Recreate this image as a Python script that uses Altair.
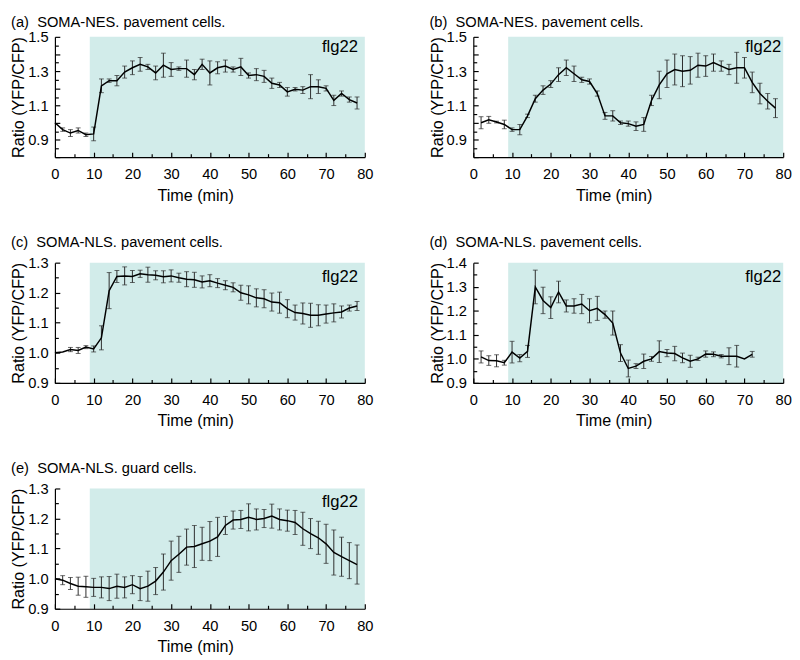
import altair as alt
import pandas as pd

# ---------------- data ----------------
T_A = list(range(0, 80, 2))
V_A = [1.00, 0.96, 0.94, 0.955, 0.93, 0.935, 1.215, 1.245, 1.245, 1.295,
       1.32, 1.34, 1.325, 1.29, 1.335, 1.31, 1.315, 1.315, 1.28, 1.34,
       1.29, 1.32, 1.33, 1.31, 1.325, 1.275, 1.28, 1.27, 1.23, 1.22,
       1.18, 1.195, 1.19, 1.21, 1.21, 1.20, 1.13, 1.17, 1.135, 1.115]
E_A = [0, 0.01, 0.02, 0.015, 0.01, 0.04, 0.04, 0.01, 0.03, 0.035,
       0.04, 0.04, 0.015, 0.04, 0.07, 0.04, 0.01, 0.05, 0.03, 0.03,
       0.07, 0.035, 0.035, 0.015, 0.05, 0.015, 0.035, 0.035, 0.03, 0.015,
       0.025, 0.01, 0.02, 0.07, 0.04, 0.015, 0.03, 0.015, 0.015, 0.035]

T_B = list(range(2, 80, 2))
V_B = [1.00, 1.017, 1.004, 0.99, 0.96, 0.96, 1.04, 1.14, 1.19, 1.225,
       1.28, 1.32, 1.285, 1.25, 1.24, 1.17, 1.04, 1.04, 1.00, 0.995,
       0.98, 0.99, 1.13, 1.22, 1.285, 1.31, 1.30, 1.305, 1.335, 1.33,
       1.35, 1.33, 1.31, 1.32, 1.32, 1.235, 1.17, 1.125, 1.085]
E_B = [0.035, 0.02, 0.005, 0.025, 0.01, 0.03, 0.01, 0.02, 0.025, 0.02,
       0.04, 0.045, 0.045, 0.015, 0.015, 0.015, 0.02, 0.03, 0.01, 0.015,
       0.025, 0.04, 0.03, 0.08, 0.08, 0.09, 0.09, 0.08, 0.07, 0.06,
       0.05, 0.03, 0.03, 0.09, 0.06, 0.06, 0.06, 0.045, 0.055]

T_C = list(range(0, 80, 2))
V_C = [1.0, 1.003, 1.011, 1.008, 1.019, 1.013, 1.05, 1.207, 1.254, 1.256,
       1.254, 1.263, 1.26, 1.258, 1.253, 1.256, 1.25, 1.245, 1.243, 1.236,
       1.24, 1.232, 1.225, 1.218, 1.2, 1.193, 1.183, 1.18, 1.169, 1.167,
       1.147, 1.134, 1.131, 1.125, 1.125, 1.129, 1.133, 1.136, 1.149, 1.156]
E_C = [0, 0, 0.007, 0.01, 0.005, 0.01, 0.04, 0.06, 0.02, 0.03,
       0.02, 0.012, 0.025, 0.015, 0.02, 0.02, 0.015, 0.025, 0.025, 0.02,
       0.02, 0.015, 0.015, 0.015, 0.025, 0.03, 0.03, 0.03, 0.03, 0.035,
       0.03, 0.025, 0.035, 0.04, 0.035, 0.03, 0.03, 0.02, 0.01, 0.015]

T_D = list(range(2, 74, 2))
V_D = [1.008, 0.993, 0.992, 0.984, 1.028, 1.003, 1.031, 1.299, 1.243, 1.213,
       1.278, 1.22, 1.22, 1.228, 1.2, 1.21, 1.184, 1.149, 1.024, 0.96,
       0.97, 0.99, 1.0, 1.03, 1.024, 1.022, 1.004, 0.99, 1.0, 1.02,
       1.019, 1.011, 1.011, 1.011, 1.0, 1.019]
E_D = [0.025, 0.02, 0.025, 0.01, 0.045, 0.015, 0.025, 0.07, 0.055, 0.045,
       0.045, 0.025, 0.03, 0.04, 0.05, 0.05, 0.015, 0.05, 0.035, 0.035,
       0.01, 0.03, 0.01, 0.045, 0.015, 0.03, 0.02, 0.025, 0.007, 0.013,
       0.01, 0.007, 0.035, 0.045, 0, 0.012]

T_E = list(range(0, 80, 2))
V_E = [1.0, 0.995, 0.984, 0.975, 0.973, 0.971, 0.971, 0.967, 0.975, 0.971,
       0.98, 0.967, 0.975, 0.992, 1.022, 1.06, 1.081, 1.105, 1.107, 1.116,
       1.125, 1.139, 1.177, 1.195, 1.197, 1.204, 1.197, 1.2, 1.208, 1.197,
       1.193, 1.187, 1.166, 1.15, 1.136, 1.116, 1.087, 1.073, 1.06, 1.047]
E_E = [0, 0.015, 0.02, 0.03, 0.035, 0.03, 0.035, 0.04, 0.04, 0.035,
       0.03, 0.04, 0.05, 0.045, 0.06, 0.065, 0.06, 0.06, 0.07, 0.055,
       0.065, 0.065, 0.03, 0.03, 0.03, 0.045, 0.035, 0.03, 0.04, 0.035,
       0.035, 0.04, 0.055, 0.05, 0.055, 0.065, 0.075, 0.065, 0.06, 0.065]

TITLES = ["(a)\u00a0 SOMA-NES. pavement cells.",
          "(b)\u00a0 SOMA-NES. pavement cells.",
          "(c)\u00a0 SOMA-NLS. pavement cells.",
          "(d)\u00a0 SOMA-NLS. pavement cells.",
          "(e)\u00a0 SOMA-NLS. guard cells."]
STIM_LABEL = "flg22"
SHADE_START = 9
SHADE_END = 80

X_DOMAIN = [0, 80]
X_LABELS = [0, 10, 20, 30, 40, 50, 60, 70, 80]
X_MINOR = [5, 15, 25, 35, 45, 55, 65, 75]

Y_DOM_AB = [0.8, 1.5]
Y_LAB_AB = [0.9, 1.1, 1.3, 1.5]
Y_MAJ_AB = [0.8, 0.9, 1.0, 1.1, 1.2, 1.3, 1.4, 1.5]
Y_MIN_AB = [0.85, 0.95, 1.05, 1.15, 1.25, 1.35, 1.45]

Y_DOM_CE = [0.9, 1.3]
Y_LAB_CE = [0.9, 1.0, 1.1, 1.2, 1.3]
Y_MIN_CE = [0.95, 1.05, 1.15, 1.25]

Y_DOM_D = [0.9, 1.4]
Y_LAB_D = [0.9, 1.0, 1.1, 1.2, 1.3, 1.4]
Y_MIN_D = [0.95, 1.05, 1.15, 1.25, 1.35]

# ---------------- styling ----------------
W, H = 317, 123
SHADE = "#d2ecea"
FONT = "Liberation Sans"
MAJ, MIN = 5, 3.5


def tick_axis(values, orient, size):
    return alt.Axis(values=values, orient=orient, labels=False, domain=False,
                    ticks=True, tickSize=size, offset=-size, tickColor="black",
                    tickWidth=1.2, grid=False, title=None, zindex=2)


def panel(title, t, v, e, ydom, ylabels, ymajor, yminor, tx, ty, toff):
    df = pd.DataFrame({"t": t, "v": v, "e": e})
    df["lo"] = df["v"] - df["e"]
    df["hi"] = df["v"] + df["e"]
    sh = pd.DataFrame({"x0": [SHADE_START], "x1": [SHADE_END],
                       "y0": [ydom[0]], "y1": [ydom[1]], "lab": [STIM_LABEL]})
    xs = alt.Scale(domain=X_DOMAIN, nice=False, zero=False)
    ys = alt.Scale(domain=ydom, nice=False, zero=False)

    main_x = alt.Axis(values=X_LABELS, format="d", ticks=False, tickSize=0,
                      domainColor="black", domainWidth=1.2, labelFontSize=15,
                      labelColor="black", labelPadding=10, title="Time (min)",
                      titleFontSize=16.5, titleFontWeight="normal", titleColor="black",
                      titlePadding=6, titleX=W / 2 - 15, grid=False, zindex=1,
                      orient="bottom", labelFlush=False, labelOverlap=False)
    main_y = alt.Axis(values=ylabels, format=".1f", ticks=False, tickSize=0,
                      domainColor="black", domainWidth=1.2, labelFontSize=15,
                      labelColor="black", labelPadding=7, title="Ratio (YFP/CFP)",
                      titleFontSize=16.5, titleFontWeight="normal", titleColor="black",
                      titlePadding=1, grid=False, zindex=1, orient="left",
                      labelFlush=False, labelOverlap=False)

    rect = alt.Chart(sh).mark_rect(color=SHADE).encode(
        x=alt.X("x0:Q", scale=xs, axis=main_x), x2="x1",
        y=alt.Y("y0:Q", scale=ys, axis=main_y), y2="y1")

    rules = alt.Chart(df).transform_filter("datum.e > 0").mark_rule(
        color="#2a2a2a", strokeWidth=1).encode(
        x=alt.X("t:Q", scale=xs, axis=tick_axis(X_LABELS, "bottom", MAJ)),
        y=alt.Y("lo:Q", scale=ys, axis=tick_axis(ymajor, "left", MAJ)),
        y2="hi")

    cap_lo = alt.Chart(df).transform_filter("datum.e > 0").mark_tick(
        orient="horizontal", size=5, thickness=1, color="#2a2a2a").encode(
        x=alt.X("t:Q", scale=xs, axis=tick_axis(X_MINOR, "bottom", MIN)),
        y=alt.Y("lo:Q", scale=ys, axis=tick_axis(yminor, "left", MIN)))

    cap_hi = alt.Chart(df).transform_filter("datum.e > 0").mark_tick(
        orient="horizontal", size=5, thickness=1, color="#2a2a2a").encode(
        x=alt.X("t:Q", scale=xs, axis=None),
        y=alt.Y("hi:Q", scale=ys, axis=None))

    line = alt.Chart(df).mark_line(color="black", strokeWidth=1.5).encode(
        x=alt.X("t:Q", scale=xs, axis=None),
        y=alt.Y("v:Q", scale=ys, axis=None))

    txt = alt.Chart(sh).mark_text(align="right", baseline="middle", fontSize=17,
                                  color="black", font=FONT).encode(
        text="lab:N", x=alt.value(W - tx), y=alt.value(ty))

    return alt.layer(rect, rules, cap_lo, cap_hi, line, txt).resolve_axis(
        x="independent", y="independent").properties(
        width=W, height=H,
        title=alt.TitleParams(text=title, anchor="start", frame="bounds",
                              fontSize=15, fontWeight="normal", color="black",
                              font=FONT, offset=toff))


pa = panel(TITLES[0], T_A, V_A, E_A, Y_DOM_AB, Y_LAB_AB, Y_MAJ_AB, Y_MIN_AB, 7, 11, 0)
pb = panel(TITLES[1], T_B, V_B, E_B, Y_DOM_AB, Y_LAB_AB, Y_MAJ_AB, Y_MIN_AB, 2, 10, 0)
pc = panel(TITLES[2], T_C, V_C, E_C, Y_DOM_CE, Y_LAB_CE, Y_LAB_CE, Y_MIN_CE, 7, 15, 6)
pd_ = panel(TITLES[3], T_D, V_D, E_D, Y_DOM_D, Y_LAB_D, Y_LAB_D, Y_MIN_D, 2, 15, 6)
pe = panel(TITLES[4], T_E, V_E, E_E, Y_DOM_CE, Y_LAB_CE, Y_LAB_CE, Y_MIN_CE, 7, 14, 6)

chart = alt.vconcat(
    alt.vconcat(
        alt.hconcat(pa, pb, spacing=57),
        alt.hconcat(pc, pd_, spacing=57),
        spacing=32,
    ),
    pe,
    spacing=32,
).configure(font=FONT).configure_view(stroke=None).properties(
    padding={"left": 3, "top": 0, "right": 0, "bottom": 0})

chart.save("out.html", embed_options={"renderer": "svg", "actions": False})
